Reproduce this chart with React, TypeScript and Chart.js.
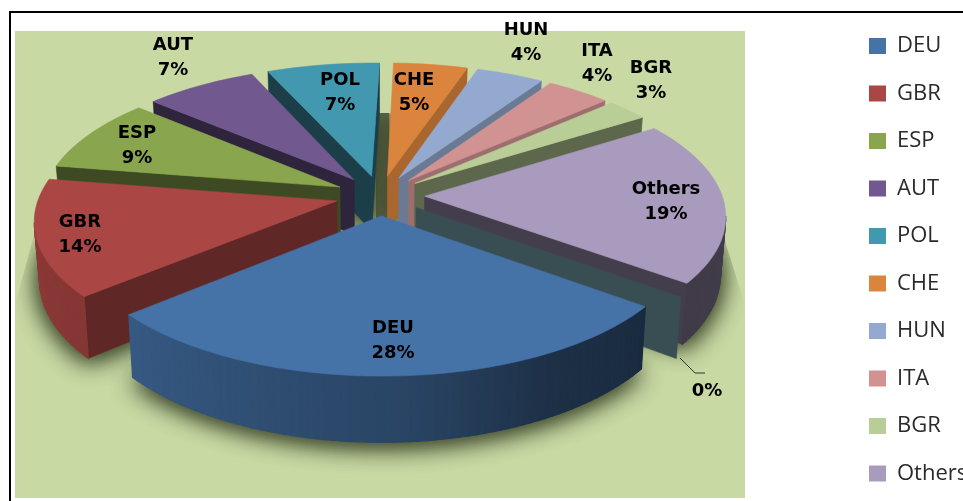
import React, { useEffect, useRef } from "react";
import { Chart, registerables } from "chart.js";

Chart.register(...registerables);

const categories = ["DEU", "GBR", "ESP", "AUT", "POL", "CHE", "HUN", "ITA", "BGR", "Others", ""];
const shares = [28.45, 13.9, 8.8, 7, 7, 4.6, 4.2, 4, 2.6, 19.45, 0];
const colours = ["#4572A7", "#AA4643", "#89A54E", "#71588F", "#4198AF", "#DB843D", "#93A9CF", "#D19392", "#B9CD96", "#A99BBD", "#8EC3D0"];
const radialShade = [0.5, 0.56, 0.45, 0.41, 0.41, 0.77, 0.72, 0.75, 0.5, 0.4, 0.4];
const labelSpots: [number, number][] = [[393, 328], [80, 222], [137, 133], [173, 45], [340, 80], [414, 80], [526, 30], [597, 51], [651, 68], [666, 189], [707, 391]];

const CX = 380, CY = 195.5, KX = 342, KY = 153, P = 0.153, DEPTH = 56;

function project(u: number, v: number, z = 0): [number, number] {
  const w = 1 - P * v;
  const x = CX + (KX * u) / w;
  const y = CY + (KY * v) / w + (DEPTH * z) / w;
  return [CX + (x - CX) * (1 - 0.015 * z), y];
}

function shade(hex: string, f: number) {
  const n = parseInt(hex.slice(1), 16);
  return `rgb(${Math.round(((n >> 16) & 255) * f)},${Math.round(((n >> 8) & 255) * f)},${Math.round((n & 255) * f)})`;
}

function outerShade(canvasAngle: number) {
  let deg = ((canvasAngle * 180) / Math.PI + 90) % 360;
  if (deg < 0) deg += 360;
  const stops: [number, number][] = [[0, 0.5], [56, 0.42], [127, 0.38], [150, 0.42], [176, 0.6], [228, 0.78], [275, 0.84], [360, 0.6]];
  for (let i = 1; i < stops.length; i++) {
    if (deg <= stops[i][0]) {
      const t = (deg - stops[i - 1][0]) / (stops[i][0] - stops[i - 1][0]);
      return stops[i - 1][1] + t * (stops[i][1] - stops[i - 1][1]);
    }
  }
  return 0.5;
}

function fillPoly(ctx: CanvasRenderingContext2D, pts: [number, number][], colour: string, edge = 0.6) {
  ctx.beginPath();
  pts.forEach((p, i) => (i ? ctx.lineTo(p[0], p[1]) : ctx.moveTo(p[0], p[1])));
  ctx.closePath();
  ctx.fillStyle = colour;
  ctx.strokeStyle = colour;
  ctx.lineWidth = edge;
  ctx.fill();
  ctx.stroke();
}

const pie3d = {
  id: "pie3d",
  beforeDraw(chart: any) {
    const ctx: CanvasRenderingContext2D = chart.ctx;
    ctx.save();
    ctx.fillStyle = "#ffffff";
    ctx.fillRect(0, 0, 963, 501);
    ctx.fillStyle = "#000000";
    ctx.fillRect(9, 11, 954, 2);
    ctx.fillRect(9, 11, 2, 490);
    ctx.fillStyle = "#c8d9a4";
    ctx.fillRect(15, 31, 730, 467);
    ctx.restore();
  },
  afterLayout(chart: any) {
    chart.legend.left = 843.5;
    chart.legend.top = 9.5;
    chart.legend.bottom = 700;
  },
  beforeDatasetsDraw(chart: any) {
    const ctx: CanvasRenderingContext2D = chart.ctx;
    const arcs = chart.getDatasetMeta(0).data;
    const slices = arcs.map((el: any, i: number) => {
      const off = el.options.offset;
      const unit = el.outerRadius + off;
      const mid = (el.startAngle + el.endAngle) / 2;
      const d = off / unit, r = el.outerRadius / unit;
      const ax = d * Math.cos(mid), ay = d * Math.sin(mid);
      const steps = Math.max(1, Math.ceil((el.endAngle - el.startAngle) / 0.025));
      const rim: { u: number; v: number; a: number }[] = [];
      for (let k = 0; k <= steps; k++) {
        const a = el.startAngle + ((el.endAngle - el.startAngle) * k) / steps;
        rim.push({ u: ax + r * Math.cos(a), v: ay + r * Math.sin(a), a });
      }
      return { i, ax, ay, rim, colour: el.options.backgroundColor, start: el.startAngle, end: el.endAngle };
    });

    // floor shadow, kept to the part of the floor in front of the pie
    ctx.save();
    ctx.beginPath();
    ctx.moveTo(15, 305);
    ctx.lineTo(34, 235);
    ctx.lineTo(376, 113);
    ctx.lineTo(389, 113);
    ctx.lineTo(723, 235);
    ctx.lineTo(745, 305);
    ctx.lineTo(745, 498);
    ctx.lineTo(15, 498);
    ctx.closePath();
    ctx.clip();
    ctx.fillStyle = "#6f7857";
    ctx.fillRect(376, 113, 13, 110);
    ctx.shadowColor = "rgba(60,70,42,0.95)";
    ctx.shadowBlur = 24;
    ctx.shadowOffsetY = 3;
    for (let pass = 0; pass < 2; pass++) {
      slices.forEach((s: any) => {
        if (s.end - s.start < 1e-6) return;
        const poly = [project(s.ax, s.ay, 1), ...s.rim.map((p: any) => project(p.u, p.v, 1))];
        ctx.beginPath();
        poly.forEach((p, i) => (i ? ctx.lineTo(p[0], p[1]) : ctx.moveTo(p[0], p[1])));
        ctx.closePath();
        ctx.fillStyle = "#6f7857";
        ctx.fill();
      });
    }
    ctx.restore();

    const eyeV = 1 / P;
    const faces = (nx: number, ny: number, u: number, v: number) => nx * (0 - u) + ny * (eyeV - v) > 0;
    const order = [...slices].sort((a: any, b: any) => a.ay - b.ay || a.i - b.i);
    order.forEach((s: any) => {
      const first = s.rim[0], last = s.rim[s.rim.length - 1];
      const wall = (p: any, nAngle: number, force: boolean) => {
        const nx = Math.cos(nAngle), ny = Math.sin(nAngle);
        if (!force && !faces(nx, ny, (s.ax + p.u) / 2, (s.ay + p.v) / 2)) return;
        fillPoly(ctx, [project(s.ax, s.ay), project(p.u, p.v), project(p.u, p.v, 1), project(s.ax, s.ay, 1)], shade(s.colour, radialShade[s.i]));
      };
      const zero = s.end - s.start < 1e-6;
      wall(first, s.start - Math.PI / 2, zero);
      if (!zero) wall(last, s.end + Math.PI / 2, false);
      if (zero) return;
      for (let k = 0; k < s.rim.length - 1; k++) {
        const p = s.rim[k], q = s.rim[k + 1];
        const a = (p.a + q.a) / 2;
        if (!faces(Math.cos(a), Math.sin(a), p.u, p.v)) continue;
        fillPoly(ctx, [project(p.u, p.v), project(q.u, q.v), project(q.u, q.v, 1), project(p.u, p.v, 1)], shade(s.colour, outerShade(a)), 1.2);
      }
      fillPoly(ctx, [project(s.ax, s.ay), ...s.rim.map((p: any) => project(p.u, p.v))], s.colour);
    });
    return false;
  },
  afterDraw(chart: any) {
    const ctx: CanvasRenderingContext2D = chart.ctx;
    ctx.save();
    ctx.strokeStyle = "#333333";
    ctx.lineWidth = 1;
    ctx.beginPath();
    ctx.moveTo(680, 358);
    ctx.lineTo(695, 373);
    ctx.lineTo(705, 373);
    ctx.stroke();
    ctx.fillStyle = "#000000";
    ctx.font = 'bold 18px "DejaVu Sans"';
    ctx.textAlign = "center";
    ctx.textBaseline = "middle";
    categories.forEach((name, i) => {
      const [x, y] = labelSpots[i];
      const pct = `${Math.round(shares[i])}%`;
      if (name) {
        ctx.fillText(name, x, y);
        ctx.fillText(pct, x, y + 25);
      } else {
        ctx.fillText(pct, x, y);
      }
    });
    ctx.restore();
  },
};

export default function App() {
  const ref = useRef<HTMLCanvasElement>(null);
  useEffect(() => {
    const chart = new Chart(ref.current as HTMLCanvasElement, {
      type: "pie",
      data: {
        labels: categories,
        datasets: [{ data: shares, backgroundColor: colours, borderWidth: 0, offset: 35 }],
      },
      options: {
        animation: false,
        responsive: false,
        rotation: 127,
        layout: { padding: 0 },
        plugins: {
          tooltip: { enabled: false },
          legend: {
            position: "right",
            align: "start",
            labels: {
              boxWidth: 17,
              boxHeight: 16,
              padding: 25.5,
              color: "#2a2a2a",
              font: { family: '"Open Sans"', size: 22 },
              filter: (item: any) => item.text !== "",
            },
          },
        },
      },
      plugins: [pie3d],
    } as any);
    return () => chart.destroy();
  }, []);
  return (
    <canvas
      ref={ref}
      width={963}
      height={501}
      style={{ position: "fixed", left: 0, top: 0, display: "block" }}
    />
  );
}
